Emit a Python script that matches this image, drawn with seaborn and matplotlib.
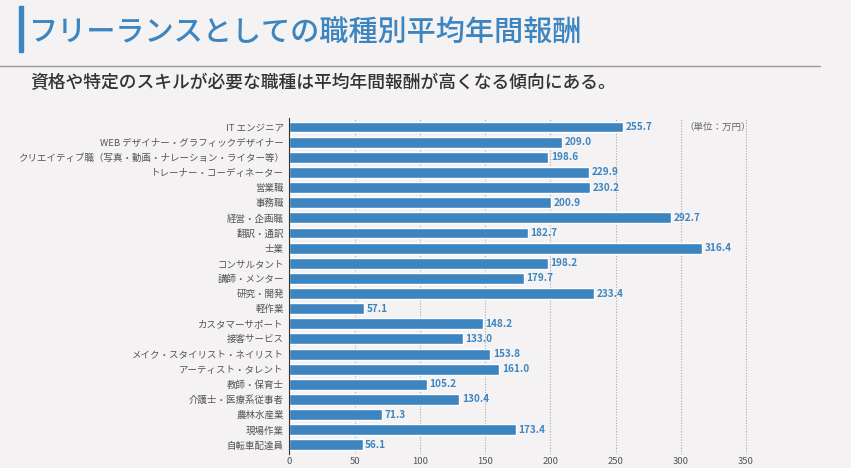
import numpy as np, pandas as pd
import matplotlib; matplotlib.use("Agg")
import matplotlib.pyplot as plt
import seaborn as sns

sns.set_style("white")
plt.rcParams['font.family'] = ['Noto Sans CJK JP', 'DejaVu Sans']

jobs = ["IT エンジニア", "WEB デザイナー・グラフィックデザイナー",
        "クリエイティブ職（写真・動画・ナレーション・ライター等）",
        "トレーナー・コーディネーター", "営業職", "事務職", "経営・企画職",
        "翻訳・通訳", "士業", "コンサルタント", "講師・メンター", "研究・開発",
        "軽作業", "カスタマーサポート", "接客サービス", "メイク・スタイリスト・ネイリスト",
        "アーティスト・タレント", "教師・保育士", "介護士・医療系従事者",
        "農林水産業", "現場作業", "自転車配達員"]
pay = [255.7, 209.0, 198.6, 229.9, 230.2, 200.9, 292.7, 182.7, 316.4, 198.2,
       179.7, 233.4, 57.1, 148.2, 133.0, 153.8, 161.0, 105.2, 130.4, 71.3,
       173.4, 56.1]
df = pd.DataFrame({"job": jobs, "pay": pay})

BG = "#f4f2f2"; BLUE = "#3d85c0"
fig = plt.figure(figsize=(8.51, 4.68), dpi=100, facecolor=BG)
ax = fig.add_axes([0.340, 0.030, 0.575, 0.718], facecolor=BG)

sns.barplot(data=df, x="pay", y="job", orient="h", color=BLUE, width=0.72,
            saturation=1, ax=ax)
for i, v in enumerate(pay):
    ax.text(v + 2, i, f"{v:.1f}", va="center", ha="left", fontsize=7.2,
            color=BLUE, fontweight="bold")
ax.text(328, 0, "（単位：万円）", va="center", ha="center", fontsize=6.8, color="#666666")

ax.set_xlim(0, 375)
ax.set_ylim(len(jobs) - 0.4, -0.6)
ax.set_xticks(np.arange(0, 351, 50))
ax.set_xlabel(""); ax.set_ylabel("")
ax.tick_params(axis="x", labelsize=6.8, colors="#555555", length=0, pad=2)
ax.tick_params(axis="y", labelsize=6.8, colors="#555555", length=0, pad=4)
ax.grid(axis="x", linestyle=(0, (1, 1.5)), color="#aaaaaa", lw=0.8)
ax.set_axisbelow(True)
for s in ["top", "right", "bottom"]:
    ax.spines[s].set_visible(False)
ax.spines["left"].set_color("#333333"); ax.spines["left"].set_linewidth(0.8)

# header
fig.patches.append(plt.Rectangle((0.022, 1 - 52/468), 0.005, 46/468,
                                 transform=fig.transFigure, color=BLUE))
fig.text(0.034, 1 - 32/468, "フリーランスとしての職種別平均年間報酬", fontsize=21,
         color=BLUE, va="center", ha="left", fontweight="medium")
fig.add_artist(plt.Line2D([0, 0.963], [1 - 66/468] * 2, transform=fig.transFigure,
                          color="#999999", lw=1))
fig.text(0.036, 1 - 83/468, "資格や特定のスキルが必要な職種は平均年間報酬が高くなる傾向にある。",
         fontsize=12.8, color="#333333", va="center", ha="left", fontweight="medium")

fig.savefig("out.png", dpi=100, facecolor=BG)
